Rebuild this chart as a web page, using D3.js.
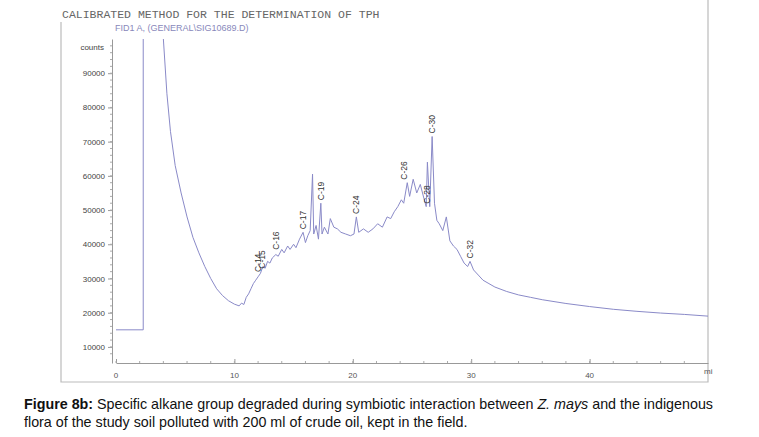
<!DOCTYPE html>
<html><head><meta charset="utf-8">
<script src="https://cdn.jsdelivr.net/npm/d3@7"></script>
<style>body{margin:0;background:#fff}</style>
</head><body>
<script>
// retention time (min) and detector counts
const times = [0, 2.3, 2.3, 3.9, 4.0, 4.3, 4.6, 5.0, 5.5, 6.0, 6.5, 7.0, 7.5, 8.0, 8.5, 9.0, 9.5, 10.0, 10.4, 10.6, 10.8, 11.0, 11.2, 11.4, 11.6, 11.8, 12.0, 12.2, 12.4, 12.6, 12.8, 13.0, 13.2, 13.5, 13.7, 14.0, 14.2, 14.5, 14.7, 15.0, 15.2, 15.5, 15.8, 16.0, 16.2, 16.4, 16.6, 16.7, 16.9, 17.1, 17.3, 17.4, 17.6, 17.9, 18.1, 18.4, 18.7, 19.0, 19.4, 19.8, 20.1, 20.3, 20.5, 20.9, 21.3, 21.7, 22.1, 22.5, 22.9, 23.2, 23.5, 23.8, 24.1, 24.3, 24.6, 24.8, 25.1, 25.4, 25.7, 26.0, 26.2, 26.3, 26.5, 26.7, 26.9, 27.1, 27.3, 27.6, 27.9, 28.2, 28.5, 28.8, 29.1, 29.4, 29.7, 29.9, 30.2, 30.6, 31.0, 31.5, 32, 33, 34, 35, 36, 38, 40, 42, 44, 46, 48, 50]
const counts = [15000, 15000, 200000, 200000, 100000, 84000, 73000, 63000, 55000, 48000, 42000, 37500, 33500, 30000, 27000, 25000, 23500, 22500, 22000, 22800, 22400, 24500, 25500, 27000, 28500, 29500, 30500, 31500, 33500, 33000, 35000, 34500, 36000, 37000, 36500, 38500, 37500, 39500, 38500, 40000, 39000, 41500, 43500, 40500, 42500, 44000, 60500, 43000, 45500, 41500, 52000, 43000, 45000, 43000, 47500, 45000, 44500, 43500, 43000, 42500, 43000, 48000, 43500, 44500, 43500, 44500, 46000, 45000, 48000, 47500, 49500, 51000, 53000, 52000, 58000, 54000, 59000, 55000, 57500, 53500, 51000, 64000, 51000, 71500, 52000, 47000, 46000, 44000, 48000, 41000, 39500, 38500, 36500, 34500, 33500, 35000, 32500, 31000, 29500, 28500, 27500, 26200, 25200, 24500, 23800, 22700, 21800, 21000, 20400, 19900, 19500, 19000]
const peakNames = ['C-14', 'C-15', 'C-16', 'C-17', 'C-19', 'C-24', 'C-26', 'C-28', 'C-30', 'C-32']
const peakTimes = [12.0, 12.3, 13.5, 15.8, 17.3, 20.3, 24.3, 26.3, 26.7, 29.9]
const peakTops = [31000, 32000, 37500, 43500, 52000, 48000, 58000, 51000, 71500, 35000]
const xTicks = [0, 10, 20, 30, 40]
const yTicks = [10000, 20000, 30000, 40000, 50000, 60000, 70000, 80000, 90000]

const W = 759, H = 437
const ink = '#8a8ac8'
const svg = d3.select('body').append('svg').attr('width', W).attr('height', H)
  .style('font-family', 'Liberation Sans, Arial, sans-serif')

const x = d3.scaleLinear().domain([0, 50]).range([116, 708])
const y = d3.scaleLinear().domain([5300, 100000]).range([363, 39])

svg.append('clipPath').attr('id', 'plot').append('rect').attr('x', 112).attr('y', 39).attr('width', 600).attr('height', 330)

// frame
svg.append('path').attr('d', 'M61,22V382H708V0').attr('fill', 'none').attr('stroke', '#bbb').attr('stroke-width', 1.2)
svg.append('text').attr('x', 62).attr('y', 18).attr('font-family', 'Liberation Mono, monospace')
  .attr('font-size', 11.5).attr('fill', '#666').text('CALIBRATED METHOD FOR THE DETERMINATION OF TPH')
svg.append('text').attr('x', 115).attr('y', 31).attr('font-size', 9).attr('fill', '#8888bb')
  .text('FID1 A, (GENERAL\\SIG10689.D)')
svg.append('text').attr('x', 104).attr('y', 50).attr('font-size', 8).attr('text-anchor', 'end').attr('fill', '#444').text('counts')

// axes
const yAxis = svg.append('g').attr('transform', 'translate(112,0)')
  .call(d3.axisLeft(y).tickValues(yTicks).tickSize(4).tickSizeOuter(0).tickFormat(d3.format('d')))
yAxis.select('.domain').attr('stroke', '#999')
yAxis.selectAll('.tick line').attr('stroke', '#999')
yAxis.selectAll('text').attr('font-size', 8).attr('fill', '#444').attr('font-family', 'Liberation Sans, Arial')
yAxis.append('g').selectAll('line').data(d3.range(8000, 100000, 2000)).join('line')
  .attr('x1', -2).attr('x2', 0).attr('y1', d => y(d)).attr('y2', d => y(d)).attr('stroke', '#aaa')

const xAxis = svg.append('g').attr('transform', 'translate(0,363)')
  .call(d3.axisTop(x).tickValues(xTicks).tickSize(4).tickSizeOuter(0).tickFormat(''))
xAxis.select('.domain').attr('stroke', '#999')
xAxis.selectAll('.tick line').attr('stroke', '#999')
xAxis.append('g').selectAll('line').data(d3.range(0, 50, 2)).join('line')
  .attr('x1', d => x(d)).attr('x2', d => x(d)).attr('y1', 0).attr('y2', -2).attr('stroke', '#aaa')
svg.append('g').selectAll('text').data(xTicks).join('text')
  .attr('x', d => x(d)).attr('y', 378).attr('text-anchor', 'middle').attr('font-size', 8).attr('fill', '#555').text(d => d)
svg.append('text').attr('x', 704).attr('y', 374).attr('font-size', 8).attr('fill', '#555').text('mi')

// trace
const pts = times.map((t, i) => [t, counts[i]])
svg.append('path').attr('clip-path', 'url(#plot)')
  .attr('d', d3.line().x(d => x(d[0])).y(d => y(d[1]))(pts))
  .attr('fill', 'none').attr('stroke', ink).attr('stroke-width', 1)

// peak labels
svg.append('g').selectAll('text').data(peakNames).join('text')
  .attr('transform', (d, i) => `translate(${x(peakTimes[i]) + 3},${y(peakTops[i]) - 3}) rotate(-90)`)
  .attr('font-size', 8.5).attr('fill', '#333').text(d => d)

// caption
const cap = svg.append('text').attr('x', 24).attr('y', 409).attr('font-size', 14.3).attr('fill', '#111')
cap.append('tspan').attr('font-weight', 'bold').text('Figure 8b:')
cap.append('tspan').text(' Specific alkane group degraded during symbiotic interaction between ')
cap.append('tspan').attr('font-style', 'italic').text('Z. mays')
cap.append('tspan').text(' and the indigenous')
svg.append('text').attr('x', 24).attr('y', 427).attr('font-size', 14.3).attr('fill', '#111')
  .text('flora of the study soil polluted with 200 ml of crude oil, kept in the field.')
</script>
</body></html>
